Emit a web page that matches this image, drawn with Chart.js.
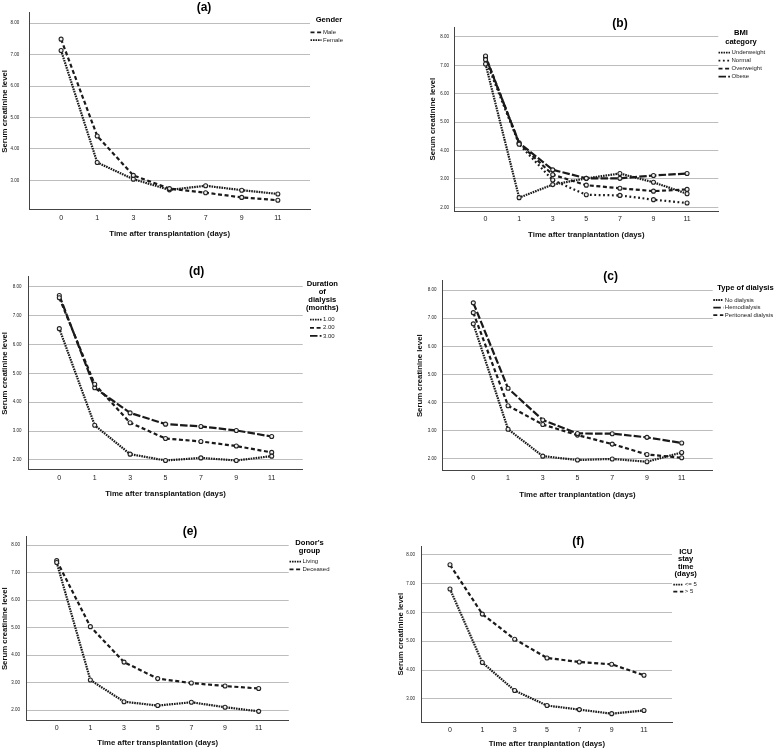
<!DOCTYPE html>
<html>
<head>
<meta charset="utf-8">
<script src="https://cdn.jsdelivr.net/npm/chart.js@4"></script>
<style>
  body { margin: 0; background: #fff; }
  #wrap { position: relative; width: 778px; height: 749px; }
  #wrap canvas { position: absolute; left: 0; top: 0; }
</style>
</head>
<body>
<div id="wrap"></div>
<script>
var days = ["0", "1", "3", "5", "7", "9", "11"];

// (a) gender
var male = [7.49, 4.41, 3.16, 2.74, 2.61, 2.46, 2.37];
var female = [7.13, 3.57, 3.04, 2.70, 2.83, 2.69, 2.57];
// (b) BMI category
var underweight = [7.05, 2.34, 2.80, 3.02, 3.19, 2.88, 2.48];
var normal = [7.20, 4.22, 2.96, 2.44, 2.42, 2.27, 2.15];
var overweight = [7.33, 4.25, 3.15, 2.78, 2.67, 2.57, 2.63];
var obese = [7.30, 4.27, 3.32, 3.02, 3.02, 3.12, 3.19];
// (d) duration of dialysis
var dur1 = [6.55, 3.20, 2.20, 1.98, 2.07, 1.98, 2.13];
var dur2 = [7.62, 4.62, 3.29, 2.74, 2.64, 2.48, 2.26];
var dur3 = [7.70, 4.50, 3.63, 3.24, 3.16, 3.02, 2.81];
// (c) type of dialysis
var noDialysis = [6.80, 3.04, 2.08, 1.94, 1.98, 1.88, 2.21];
var hemodialysis = [7.55, 4.50, 3.37, 2.89, 2.88, 2.75, 2.55];
var peritoneal = [7.20, 3.88, 3.21, 2.83, 2.51, 2.14, 2.02];
// (e) donor's group
var living = [7.37, 3.10, 2.31, 2.17, 2.29, 2.11, 1.96];
var deceased = [7.44, 5.04, 3.75, 3.15, 2.99, 2.88, 2.79];
// (f) ICU stay
var icuShort = [6.81, 4.26, 3.29, 2.77, 2.63, 2.49, 2.60];
var icuLong = [7.65, 5.94, 5.07, 4.42, 4.28, 4.20, 3.82];

var FONT = "'Liberation Sans', Arial, sans-serif";
var INK = "#1a1a1a";
var DOTS = { dash: [1.6, 0.9], width: 2.2 };
var SPARSE = { dash: [1.8, 2.6], width: 2.2 };
var DASH = { dash: [4, 2.6], width: 2.2 };
var LONG = { dash: [7.5, 2.2], width: 2.2 };
var W = 778, H = 749;

// titles and side legends, drawn after the chart
var decor = {
  id: "decor",
  afterDraw: function (chart) {
    var o = chart.options.plugins.decor;
    var ctx = chart.ctx;
    ctx.save();
    ctx.fillStyle = "#000";
    ctx.textBaseline = "middle";
    ctx.textAlign = "center";
    ctx.font = "bold 12px " + FONT;
    ctx.fillText(o.title, o.titleX, o.titleY);
    ctx.font = "bold 7.6px " + FONT;
    o.legTitle.forEach(function (t, i) {
      ctx.fillText(t, o.legX, o.legY + i * o.legStep);
    });
    ctx.textAlign = "left";
    ctx.font = "6px " + FONT;
    chart.data.datasets.forEach(function (ds, i) {
      var y = o.itemY + i * o.itemStep;
      ctx.strokeStyle = INK;
      ctx.lineWidth = 1.8;
      ctx.setLineDash(ds.borderDash);
      ctx.beginPath();
      ctx.moveTo(o.sample[0], y);
      ctx.lineTo(o.sample[1], y);
      ctx.stroke();
      ctx.fillStyle = "#222";
      ctx.fillText(ds.label, o.sample[1] + 1.5, y);
    });
    ctx.restore();
  }
};

function panel(o) {
  var cv = document.createElement("canvas");
  cv.width = W;
  cv.height = H;
  cv.style.width = W + "px";
  cv.style.height = H + "px";
  document.getElementById("wrap").appendChild(cv);
  var p = o.plot; // left, top, right, bottom of the plot frame
  new Chart(cv, {
    type: "line",
    data: {
      datasets: o.series.map(function (s) {
        return {
          label: s.label,
          data: s.data.map(function (v, i) { return { x: i, y: v }; }),
          borderColor: INK,
          borderWidth: s.style.width,
          borderDash: s.style.dash,
          pointRadius: 2,
          pointBorderWidth: 1.1,
          pointBorderColor: "#222",
          pointBackgroundColor: "#eee",
          tension: 0,
          fill: false
        };
      })
    },
    options: {
      responsive: false,
      animation: false,
      events: [],
      layout: { padding: { left: o.yLeft, top: p[1], right: W - p[2], bottom: H - o.xBottom } },
      plugins: { legend: { display: false }, tooltip: { enabled: false }, decor: o.decor },
      scales: {
        x: {
          type: "linear",
          min: -o.xPad[0],
          max: days.length - 1 + o.xPad[1],
          afterBuildTicks: function (s) { s.ticks = days.map(function (d, i) { return { value: i }; }); },
          afterFit: function (s) { s.height = o.xBottom - p[3]; },
          grid: { display: false, drawTicks: false },
          border: { color: "#444", width: 1 },
          ticks: {
            callback: function (v) { return days[v]; },
            padding: 3.5, maxRotation: 0, autoSkip: false,
            color: "#222", font: { family: FONT, size: 7 }
          },
          title: { display: true, text: o.xTitle, padding: 0, color: "#111", font: { family: FONT, size: 7.8, weight: "bold" } }
        },
        y: {
          min: o.yRange[0],
          max: o.yRange[1],
          afterBuildTicks: function (s) { s.ticks = o.yTicks.map(function (v) { return { value: v }; }); },
          afterFit: function (s) { s.width = p[0] - o.yLeft; },
          grid: { color: "#bdbdbd", lineWidth: 1, drawTicks: false },
          border: { color: "#444", width: 1 },
          ticks: {
            callback: function (v) { return v.toFixed(2); },
            padding: o.yTickPad, color: "#222", font: { family: FONT, size: 4.5 }
          },
          title: { display: true, text: "Serum creatinine level", padding: 0, color: "#111", font: { family: FONT, size: 7.8, weight: "bold" } }
        }
      }
    },
    plugins: [decor]
  });
}

panel({
  plot: [29.3, 12.3, 310, 210], yLeft: 0.3, xBottom: 238.7, yRange: [2.06, 8.33], yTicks: [3, 4, 5, 6, 7, 8],
  xPad: [0.88, 0.89], yTickPad: 10, xTitle: "Time after transplantation (days)",
  series: [{ label: "Male", data: male, style: DASH }, { label: "Female", data: female, style: DOTS }],
  decor: { title: "(a)", titleX: 204, titleY: 7.5, legTitle: ["Gender"], legX: 329, legY: 20, legStep: 8,
    sample: [310.5, 321.5], itemY: 32.3, itemStep: 7.8 }
});

panel({
  plot: [454.3, 27.3, 718.3, 211], yLeft: 428, xBottom: 239.7, yRange: [1.87, 8.34], yTicks: [2, 3, 4, 5, 6, 7, 8],
  xPad: [0.93, 0.93], yTickPad: 5.3, xTitle: "Time after tranplantation (days)",
  series: [{ label: "Underweight", data: underweight, style: DOTS }, { label: "Normal", data: normal, style: SPARSE },
    { label: "Overweight", data: overweight, style: DASH }, { label: "Obese", data: obese, style: LONG }],
  decor: { title: "(b)", titleX: 620, titleY: 23.5, legTitle: ["BMI", "category"], legX: 741, legY: 33.3, legStep: 9,
    sample: [718.5, 730], itemY: 52.7, itemStep: 8 }
});

panel({
  plot: [28.3, 276.7, 302.7, 470], yLeft: 0.3, xBottom: 498.7, yRange: [1.65, 8.35], yTicks: [2, 3, 4, 5, 6, 7, 8],
  xPad: [0.876, 0.876], yTickPad: 6.7, xTitle: "Time after transplantation (days)",
  series: [{ label: "1.00", data: dur1, style: DOTS }, { label: "2.00", data: dur2, style: DASH }, { label: "3.00", data: dur3, style: LONG }],
  decor: { title: "(d)", titleX: 196.7, titleY: 272, legTitle: ["Duration", "of", "dialysis", "(months)"], legX: 322.3, legY: 284.3, legStep: 8,
    sample: [310, 321.5], itemY: 319.7, itemStep: 8.1 }
});

panel({
  plot: [442.3, 280.7, 712.7, 470.7], yLeft: 415.3, xBottom: 499.7, yRange: [1.56, 8.34], yTicks: [2, 3, 4, 5, 6, 7, 8],
  xPad: [0.893, 0.893], yTickPad: 5.7, xTitle: "Time after tranplantation (days)",
  series: [{ label: "No dialysis", data: noDialysis, style: DOTS }, { label: "Hemodialysis", data: hemodialysis, style: LONG },
    { label: "Peritoneal dialysis", data: peritoneal, style: DASH }],
  decor: { title: "(c)", titleX: 610.7, titleY: 276.3, legTitle: ["Type of dialysis"], legX: 745.5, legY: 288.3, legStep: 8,
    sample: [713.3, 723.3], itemY: 300, itemStep: 7.6 }
});

panel({
  plot: [26.7, 536.7, 288.7, 720.7], yLeft: 0, xBottom: 748, yRange: [1.62, 8.31], yTicks: [2, 3, 4, 5, 6, 7, 8],
  xPad: [0.891, 0.891], yTickPad: 6.7, xTitle: "Time after transplantation (days)",
  series: [{ label: "Living", data: living, style: DOTS }, { label: "Deceased", data: deceased, style: DASH }],
  decor: { title: "(e)", titleX: 190, titleY: 531.3, legTitle: ["Donor's", "group"], legX: 309.5, legY: 542.7, legStep: 8,
    sample: [289.5, 301], itemY: 561.7, itemStep: 7.6 }
});

panel({
  plot: [421.7, 546, 672, 722.3], yLeft: 396, xBottom: 749, yRange: [2.19, 8.3], yTicks: [3, 4, 5, 6, 7, 8],
  xPad: [0.875, 0.866], yTickPad: 6.7, xTitle: "Time after tranplantation (days)",
  series: [{ label: "<= 5", data: icuShort, style: DOTS }, { label: "> 5", data: icuLong, style: DASH }],
  decor: { title: "(f)", titleX: 578.3, titleY: 542, legTitle: ["ICU", "stay", "time", "(days)"], legX: 685.7, legY: 551.7, legStep: 7.5,
    sample: [673.3, 683.3], itemY: 584.7, itemStep: 7 }
});
</script>
</body>
</html>
